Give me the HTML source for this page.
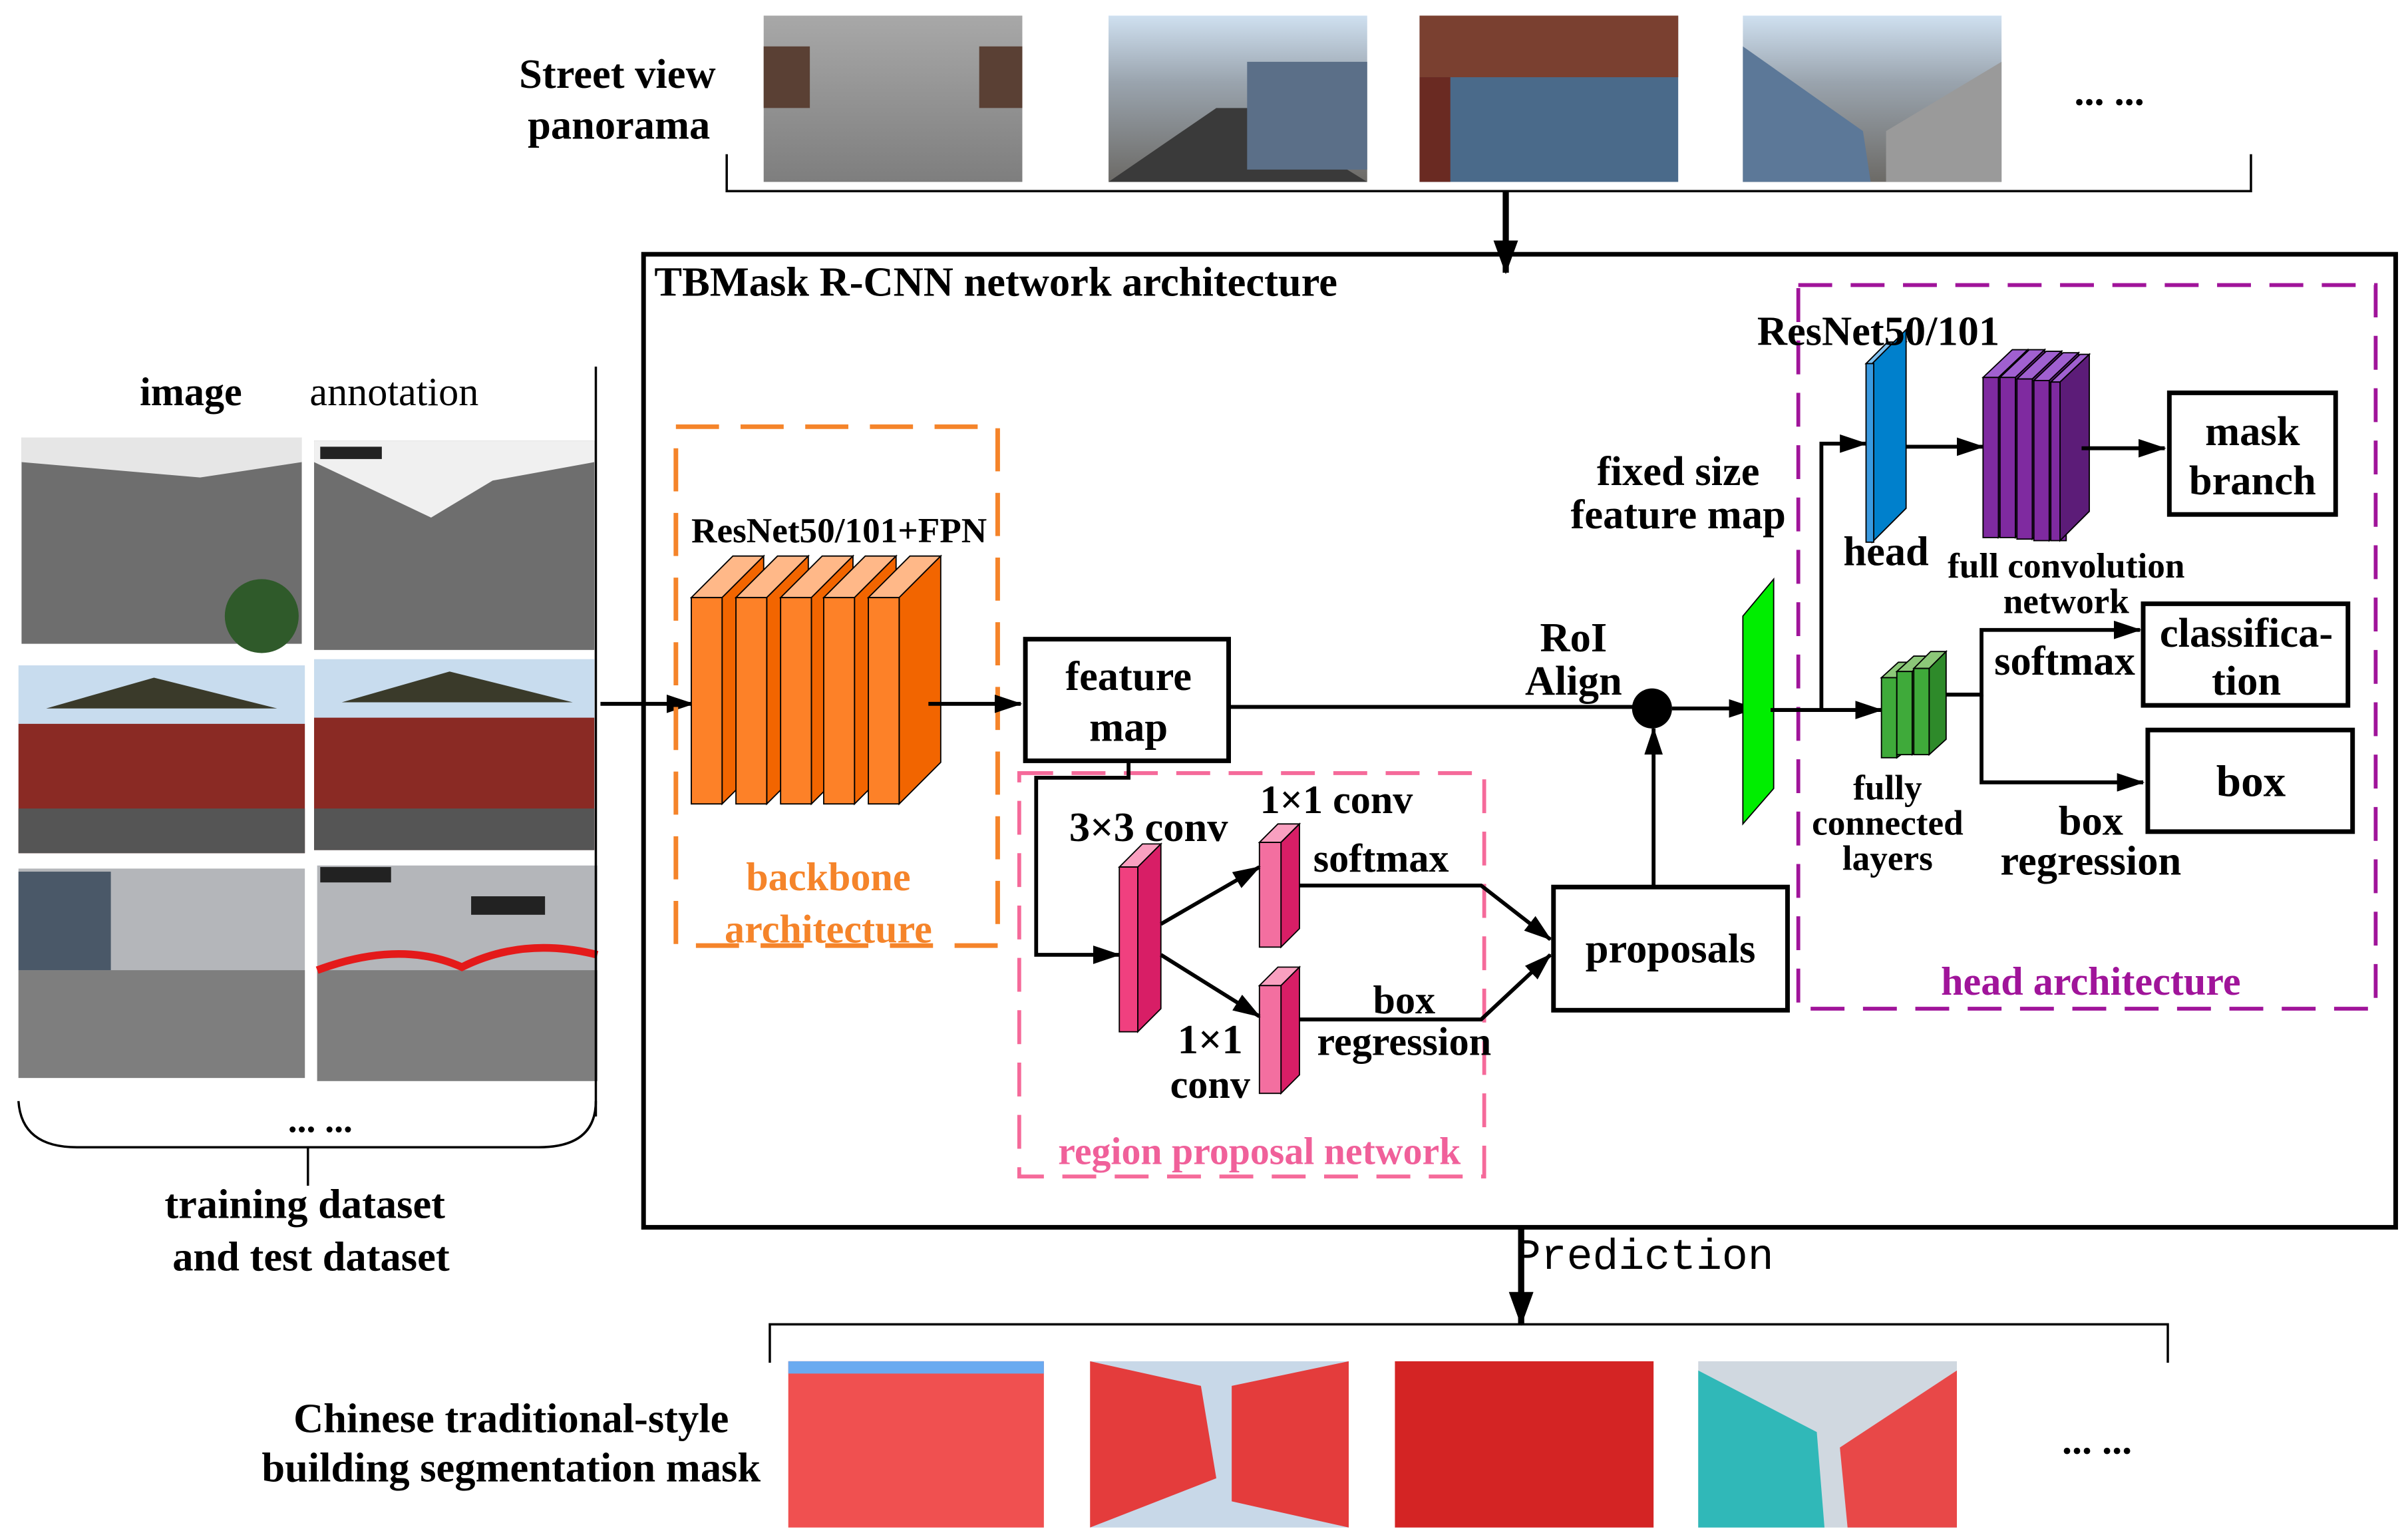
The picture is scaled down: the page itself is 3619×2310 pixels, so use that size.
<!DOCTYPE html>
<html><head><meta charset="utf-8"><style>
html,body{margin:0;padding:0;background:#fff;}
svg{display:block;}
text{font-family:"Liberation Serif",serif;font-weight:bold;fill:#000;}
</style></head><body>
<svg width="3619" height="2310" viewBox="0 0 1564 998" xmlns="http://www.w3.org/2000/svg">
<defs>
<marker id="ar" markerWidth="18" markerHeight="12" refX="17" refY="6" orient="auto" markerUnits="userSpaceOnUse" viewBox="0 0 18 12"><path d="M0,0 L18,6 L0,12 z" fill="#000"/></marker>
<marker id="arb" markerWidth="22" markerHeight="16" refX="21" refY="8" orient="auto" markerUnits="userSpaceOnUse" viewBox="0 0 22 16"><path d="M0,0 L22,8 L0,16 z" fill="#000"/></marker>
<linearGradient id="sky" x1="0" y1="0" x2="0" y2="1"><stop offset="0" stop-color="#cfe0f0"/><stop offset="0.4" stop-color="#9aa4ae"/><stop offset="1" stop-color="#6c6a66"/></linearGradient>
<linearGradient id="wall" x1="0" y1="0" x2="0" y2="1"><stop offset="0" stop-color="#a8a8a8"/><stop offset="1" stop-color="#7e7e7e"/></linearGradient>
</defs>

<!-- Street view -->
<text x="401" y="57" font-size="27" text-anchor="middle">Street view</text>
<text x="402" y="90" font-size="27" text-anchor="middle">panorama</text>
<rect x="496" y="10" width="168" height="108" fill="url(#wall)"/>
<rect x="496" y="30" width="30" height="40" fill="#5a4034"/><rect x="636" y="30" width="28" height="40" fill="#5a4034"/>
<rect x="720" y="10" width="168" height="108" fill="url(#sky)"/><path d="M720,118 L790,70 L810,70 L888,118z" fill="#3a3a3a"/><rect x="810" y="40" width="78" height="70" fill="#5b6f88"/>
<rect x="922" y="10" width="168" height="108" fill="#4a6a8a"/><rect x="922" y="10" width="168" height="40" fill="#7a4030"/><rect x="922" y="50" width="20" height="68" fill="#6a2a22"/>
<rect x="1132" y="10" width="168" height="108" fill="url(#sky)"/><path d="M1132,30 L1210,85 L1215,118 L1132,118z" fill="#5c7898"/><path d="M1300,40 L1225,85 L1225,118 L1300,118z" fill="#9a9a9a"/>
<text x="1370" y="68" font-size="26" text-anchor="middle">... ...</text>
<path d="M472,100 V124 H1462 V100" fill="none" stroke="#000" stroke-width="1.5"/>
<line x1="978" y1="124" x2="978" y2="177" stroke="#000" stroke-width="4" marker-end="url(#arb)"/>

<!-- main box -->
<rect x="418" y="165" width="1138" height="632" fill="none" stroke="#000" stroke-width="3"/>
<text x="425" y="192" font-size="27">TBMask R-CNN network architecture</text>

<!-- left dataset -->
<text x="124" y="263" font-size="26" text-anchor="middle">image</text>
<text x="256" y="263" font-size="26" text-anchor="middle" style="font-weight:normal">annotation</text>
<rect x="14" y="284" width="182" height="134" fill="#6e6e6e"/><path d="M14,284 L196,284 L196,300 L130,310 L14,300z" fill="#e6e6e6"/><circle cx="170" cy="400" r="24" fill="#2f5a2a"/>
<rect x="204" y="286" width="182" height="136" fill="#6e6e6e"/><path d="M204,286 L386,286 L386,300 L320,312 L280,336 L204,300z" fill="#f0f0f0"/><rect x="208" y="290" width="40" height="8" fill="#222"/>
<rect x="12" y="432" width="186" height="122" fill="#c8dcee"/><path d="M12,470 L198,470 L198,554 L12,554z" fill="#8a2a24"/><path d="M30,460 L100,440 L180,460z" fill="#3a3a2a"/><rect x="12" y="525" width="186" height="29" fill="#555"/>
<rect x="204" y="428" width="182" height="124" fill="#c8dcee"/><path d="M204,466 L386,466 L386,552 L204,552z" fill="#8a2a24"/><path d="M222,456 L292,436 L372,456z" fill="#3a3a2a"/><rect x="204" y="525" width="182" height="27" fill="#555"/>
<rect x="12" y="564" width="186" height="136" fill="#b4b6ba"/><rect x="12" y="630" width="186" height="70" fill="#7e7e7e"/><rect x="12" y="566" width="60" height="64" fill="#4a5868"/>
<rect x="206" y="562" width="182" height="140" fill="#b4b6ba"/><rect x="206" y="630" width="182" height="72" fill="#7e7e7e"/><rect x="208" y="563" width="46" height="10" fill="#222"/><rect x="306" y="582" width="48" height="12" fill="#222"/>
<path d="M206,630 Q260,610 300,628 Q340,608 388,620" fill="none" stroke="#e41a1a" stroke-width="5"/>
<line x1="387" y1="238" x2="387" y2="725" stroke="#000" stroke-width="1.5"/>
<path d="M12,715 Q14,745 50,745 L350,745 Q387,745 387,715" fill="none" stroke="#000" stroke-width="1.5"/>
<line x1="200" y1="745" x2="200" y2="770" stroke="#000" stroke-width="1.5"/>
<text x="208" y="735" font-size="24" text-anchor="middle">... ...</text>
<text x="198" y="791" font-size="27" text-anchor="middle">training dataset</text>
<text x="202" y="825" font-size="27" text-anchor="middle">and test dataset</text>
<line x1="390" y1="457" x2="450" y2="457" stroke="#000" stroke-width="2.5" marker-end="url(#ar)"/>

<!-- backbone -->
<rect x="439" y="277" width="209" height="337" fill="none" stroke="#f5842a" stroke-width="3" stroke-dasharray="28,14"/>
<text x="545" y="352" font-size="23" text-anchor="middle">ResNet50/101+FPN</text>
<g stroke="#000" stroke-width="0.8">
<path d="M449,388 L476,361 L496,361 L469,388z" fill="#ffb888"/><path d="M469,388 L496,361 L496,495 L469,522z" fill="#f26500"/><rect x="449" y="388" width="20" height="134" fill="#fd8128"/>
<path d="M478,388 L505,361 L525,361 L498,388z" fill="#ffb888"/><path d="M498,388 L525,361 L525,495 L498,522z" fill="#f26500"/><rect x="478" y="388" width="20" height="134" fill="#fd8128"/>
<path d="M507,388 L534,361 L554,361 L527,388z" fill="#ffb888"/><path d="M527,388 L554,361 L554,495 L527,522z" fill="#f26500"/><rect x="507" y="388" width="20" height="134" fill="#fd8128"/>
<path d="M535,388 L562,361 L582,361 L555,388z" fill="#ffb888"/><path d="M555,388 L582,361 L582,495 L555,522z" fill="#f26500"/><rect x="535" y="388" width="20" height="134" fill="#fd8128"/>
<path d="M564,388 L591,361 L611,361 L584,388z" fill="#ffb888"/><path d="M584,388 L611,361 L611,495 L584,522z" fill="#f26500"/><rect x="564" y="388" width="20" height="134" fill="#fd8128"/>
</g>
<text x="538" y="578" font-size="26" text-anchor="middle" style="fill:#f5842a">backbone</text>
<text x="538" y="612" font-size="26" text-anchor="middle" style="fill:#f5842a">architecture</text>
<line x1="603" y1="457" x2="663" y2="457" stroke="#000" stroke-width="2.5" marker-end="url(#ar)"/>

<!-- feature map -->
<rect x="666" y="415" width="132" height="79" fill="#fff" stroke="#000" stroke-width="3"/>
<text x="733" y="448" font-size="27" text-anchor="middle">feature</text>
<text x="733" y="481" font-size="27" text-anchor="middle">map</text>
<line x1="798" y1="459" x2="1062" y2="459" stroke="#000" stroke-width="2.5"/>
<circle cx="1073" cy="460" r="13" fill="#000"/>
<line x1="1086" y1="460" x2="1140" y2="460" stroke="#000" stroke-width="2.5" marker-end="url(#ar)"/>
<text x="1022" y="423" font-size="27" text-anchor="middle">RoI</text>
<text x="1022" y="451" font-size="27" text-anchor="middle">Align</text>

<!-- RPN -->
<rect x="662" y="502" width="302" height="262" fill="none" stroke="#f56a9a" stroke-width="2.5" stroke-dasharray="22,12"/>
<text x="818" y="756" font-size="25" text-anchor="middle" style="fill:#f0609a">region proposal network</text>
<path d="M733,494 V505 H673 V620 H727" fill="none" stroke="#000" stroke-width="2.5" marker-end="url(#ar)"/>
<g stroke="#000" stroke-width="0.8">
<path d="M727,563 L742,548 L754,548 L739,563z" fill="#f9a0c0"/><path d="M739,563 L754,548 L754,655 L739,670z" fill="#d81e66"/><rect x="727" y="563" width="12" height="107" fill="#f0407f"/>
<path d="M818,547 L830,535 L844,535 L832,547z" fill="#f9a0c0"/><path d="M832,547 L844,535 L844,603 L832,615z" fill="#d81e66"/><rect x="818" y="547" width="14" height="68" fill="#f36fa0"/>
<path d="M818,640 L830,628 L844,628 L832,640z" fill="#f9a0c0"/><path d="M832,640 L844,628 L844,698 L832,710z" fill="#d81e66"/><rect x="818" y="640" width="14" height="70" fill="#f36fa0"/>
</g>
<line x1="754" y1="600" x2="818" y2="563" stroke="#000" stroke-width="2.5" marker-end="url(#ar)"/>
<line x1="754" y1="620" x2="818" y2="660" stroke="#000" stroke-width="2.5" marker-end="url(#ar)"/>
<text x="746" y="546" font-size="27" text-anchor="middle">3×3 conv</text>
<text x="868" y="528" font-size="26" text-anchor="middle">1×1 conv</text>
<text x="897" y="566" font-size="26" text-anchor="middle">softmax</text>
<text x="912" y="658" font-size="26" text-anchor="middle">box</text>
<text x="912" y="685" font-size="26" text-anchor="middle">regression</text>
<text x="786" y="684" font-size="27" text-anchor="middle">1×1</text>
<text x="786" y="713" font-size="26" text-anchor="middle">conv</text>
<path d="M844,575 H962 L1007,610" fill="none" stroke="#000" stroke-width="2.5" marker-end="url(#ar)"/>
<path d="M844,662 H962 L1007,620" fill="none" stroke="#000" stroke-width="2.5" marker-end="url(#ar)"/>

<!-- proposals -->
<rect x="1009" y="576" width="152" height="80" fill="#fff" stroke="#000" stroke-width="3"/>
<text x="1085" y="625" font-size="27" text-anchor="middle">proposals</text>
<line x1="1074" y1="576" x2="1074" y2="473" stroke="#000" stroke-width="2.5" marker-end="url(#ar)"/>

<!-- fixed size -->
<path d="M1132,400 L1152,376 L1152,512 L1132,535z" fill="#00ee00" stroke="#000" stroke-width="0.8"/>
<text x="1090" y="315" font-size="27" text-anchor="middle">fixed size</text>
<text x="1090" y="343" font-size="27" text-anchor="middle">feature map</text>

<!-- head -->
<rect x="1168" y="185" width="375" height="470" fill="none" stroke="#a0149a" stroke-width="2.5" stroke-dasharray="22,12"/>
<text x="1358" y="646" font-size="26" text-anchor="middle" style="fill:#a0149a">head architecture</text>
<line x1="1150" y1="461" x2="1222" y2="461" stroke="#000" stroke-width="2.5" marker-end="url(#ar)"/>
<path d="M1183,461 V288 H1212" fill="none" stroke="#000" stroke-width="2.5" marker-end="url(#ar)"/>
<g stroke="#000" stroke-width="0.8">
<path d="M1212,236 L1226,222 L1238,222 L1224,236z" fill="#80c0ee"/>
<path d="M1216,236 L1238,214 L1238,330 L1216,352z" fill="#0080cc"/><rect x="1212" y="236" width="5" height="116" fill="#3a9ae0"/>
</g>
<text x="1220" y="224" font-size="27" text-anchor="middle">ResNet50/101</text>
<text x="1225" y="367" font-size="27" text-anchor="middle">head</text>
<line x1="1238" y1="290" x2="1288" y2="290" stroke="#000" stroke-width="2.5" marker-end="url(#ar)"/>
<g stroke="#000" stroke-width="0.8">
<path d="M1288,245 L1307,227 L1317,227 L1298,245z" fill="#a060d0"/><rect x="1288" y="245" width="10" height="104" fill="#7f2aa0"/><path d="M1298,245 L1317,227 L1317,330 L1298,349z" fill="#5c1c78"/>
<path d="M1299,245 L1318,227 L1328,227 L1309,245z" fill="#a060d0"/><rect x="1299" y="245" width="10" height="104" fill="#7f2aa0"/><path d="M1309,245 L1328,227 L1328,330 L1309,349z" fill="#5c1c78"/>
<path d="M1310,246 L1329,228 L1339,228 L1320,246z" fill="#a060d0"/><rect x="1310" y="246" width="10" height="104" fill="#7f2aa0"/><path d="M1320,246 L1339,228 L1339,331 L1320,350z" fill="#5c1c78"/>
<path d="M1321,247 L1340,229 L1350,229 L1331,247z" fill="#a060d0"/><rect x="1321" y="247" width="10" height="104" fill="#7f2aa0"/><path d="M1331,247 L1350,229 L1350,332 L1331,351z" fill="#5c1c78"/>
<path d="M1332,248 L1351,230 L1357,230 L1338,248z" fill="#a060d0"/><rect x="1332" y="248" width="10" height="103" fill="#7f2aa0"/><path d="M1338,248 L1357,230 L1357,332 L1338,351z" fill="#5c1c78"/>
</g>
<line x1="1352" y1="291" x2="1406" y2="291" stroke="#000" stroke-width="2.5" marker-end="url(#ar)"/>
<rect x="1409" y="255" width="108" height="79" fill="#fff" stroke="#000" stroke-width="3"/>
<text x="1463" y="289" font-size="27" text-anchor="middle">mask</text>
<text x="1463" y="321" font-size="27" text-anchor="middle">branch</text>
<text x="1342" y="375" font-size="23" text-anchor="middle">full convolution</text>
<text x="1342" y="398" font-size="23" text-anchor="middle">network</text>
<g stroke="#000" stroke-width="0.8">
<path d="M1222,440 L1233,430 L1243,430 L1232,440z" fill="#8cc878"/><rect x="1222" y="440" width="10" height="52" fill="#3faa3a"/><path d="M1232,440 L1243,430 L1243,484 L1232,492z" fill="#2e8a2a"/>
<path d="M1232,436 L1243,426 L1253,426 L1242,436z" fill="#8cc878"/><rect x="1232" y="436" width="10" height="54" fill="#3faa3a"/><path d="M1242,436 L1253,426 L1253,481 L1242,490z" fill="#2e8a2a"/>
<path d="M1243,434 L1254,423 L1264,423 L1253,434z" fill="#8cc878"/><rect x="1243" y="434" width="10" height="56" fill="#3faa3a"/><path d="M1253,434 L1264,423 L1264,480 L1253,490z" fill="#2e8a2a"/>
</g>
<text x="1226" y="519" font-size="23" text-anchor="middle">fully</text>
<text x="1226" y="542" font-size="23" text-anchor="middle">connected</text>
<text x="1226" y="565" font-size="23" text-anchor="middle">layers</text>
<path d="M1264,451 H1287 V409 H1390" fill="none" stroke="#000" stroke-width="2.5" marker-end="url(#ar)"/>
<path d="M1287,451 V508 H1392" fill="none" stroke="#000" stroke-width="2.5" marker-end="url(#ar)"/>
<rect x="1392" y="392" width="133" height="66" fill="#fff" stroke="#000" stroke-width="3"/>
<text x="1459" y="420" font-size="27" text-anchor="middle">classifica-</text>
<text x="1459" y="451" font-size="27" text-anchor="middle">tion</text>
<rect x="1395" y="474" width="133" height="66" fill="#fff" stroke="#000" stroke-width="3"/>
<text x="1462" y="517" font-size="29" text-anchor="middle">box</text>
<text x="1341" y="438" font-size="27" text-anchor="middle">softmax</text>
<text x="1358" y="542" font-size="27" text-anchor="middle">box</text>
<text x="1358" y="568" font-size="27" text-anchor="middle">regression</text>

<!-- prediction -->
<line x1="988" y1="797" x2="988" y2="860" stroke="#000" stroke-width="4" marker-end="url(#arb)"/>
<text x="1068" y="824" font-size="28" text-anchor="middle" style="font-family:'Liberation Mono',monospace;font-weight:normal">Prediction</text>
<path d="M500,885 V860 H1408 V885" fill="none" stroke="#000" stroke-width="1.5"/>
<rect x="512" y="884" width="166" height="108" fill="#f05050"/><rect x="512" y="884" width="166" height="8" fill="#6aaaf0"/>
<rect x="708" y="884" width="168" height="108" fill="#c8d8e8"/><path d="M708,884 L780,900 L790,960 L708,992z" fill="#e43c3c"/><path d="M876,884 L800,900 L800,975 L876,992z" fill="#e43c3c"/>
<rect x="906" y="884" width="168" height="108" fill="#d42424"/>
<rect x="1103" y="884" width="168" height="108" fill="#d0d8e0"/><path d="M1103,890 L1180,930 L1185,992 L1103,992z" fill="#30b8b8"/><path d="M1271,890 L1195,940 L1200,992 L1271,992z" fill="#e84848"/>
<text x="1362" y="944" font-size="26" text-anchor="middle">... ...</text>
<text x="332" y="930" font-size="27" text-anchor="middle">Chinese traditional-style</text>
<text x="332" y="962" font-size="27" text-anchor="middle">building segmentation mask</text>
</svg>
</body></html>
